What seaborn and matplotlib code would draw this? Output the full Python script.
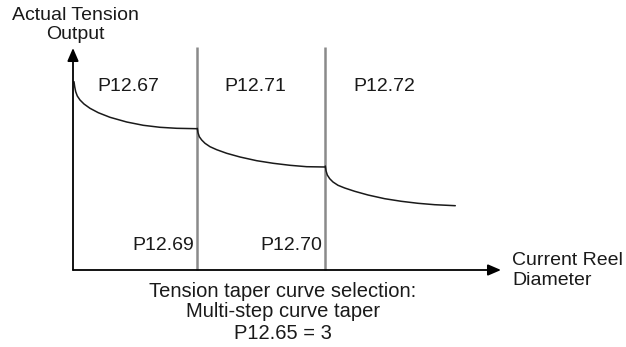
import matplotlib
matplotlib.use("Agg")
import matplotlib.pyplot as plt
import seaborn as sns
import pandas as pd

# ---- data (x = reel diameter units from origin, y = tension units above x-axis) ----
seg1_x = [1, 1.7, 2.7, 4.3, 7, 11, 17, 25.3, 37, 53.7, 70.3, 87, 103.7, 123.7]
seg1_y = [188.3, 183.3, 178.3, 174, 170, 166, 161.7, 157.3, 152.7, 148, 144.7, 142.7, 141.7, 141.3]
seg2_x = [124.3, 125, 126.3, 128.7, 132, 137, 143.7, 153.7, 167, 183.7, 200.3, 217, 233.7, 252]
seg2_y = [141.7, 137.3, 133.3, 130, 126.7, 123.3, 120.3, 116.7, 113, 109.3, 106.7, 104.7, 103.3, 103]
seg3_x = [252.3, 253, 254.3, 256.7, 260, 265, 271.7, 281.7, 295, 311.7, 328.3, 345, 361.7, 382.3]
seg3_y = [104, 99.3, 95, 91.3, 88, 84.7, 82, 78.7, 75, 71.3, 68.7, 66.7, 65.3, 64.3]

boundaries = [124, 252]
boundary_top = 223

top_labels = ["P12.67", "P12.71", "P12.72"]
bottom_labels = ["P12.69", "P12.70"]

y_label = "Actual Tension\nOutput"
x_label = "Current Reel\nDiameter"
caption = ["Tension taper curve selection:", "Multi-step curve taper", "P12.65 = 3"]

sns.set_theme(style="white")
plt.rcParams["font.family"] = ["Liberation Sans", "DejaVu Sans"]

df = pd.DataFrame({
    "x": seg1_x + seg2_x + seg3_x,
    "y": seg1_y + seg2_y + seg3_y,
    "seg": [1] * len(seg1_x) + [2] * len(seg2_x) + [3] * len(seg3_x),
})

fig = plt.figure(figsize=(6.26, 3.47), dpi=100)
ax = fig.add_axes([0, 0, 1, 1])
ax.set_xlim(-73, 553)
ax.set_ylim(-77, 270)
ax.axis("off")

# boundary lines
ax.vlines(boundaries, 0, boundary_top, color="#8a8a8a", lw=1.8, zorder=1)

# curves
sns.lineplot(data=df, x="x", y="y", units="seg", estimator=None, sort=False,
             color="#1a1a1a", lw=1.1, ax=ax, legend=False, zorder=3)

# axes with arrows
arrow = dict(arrowstyle="-|>,head_length=0.65,head_width=0.28", color="black",
             lw=1.3, shrinkA=0, shrinkB=0)
ax.annotate("", xy=(0, 222), xytext=(0, 0), arrowprops=arrow)
ax.annotate("", xy=(428, 0), xytext=(0, 0), arrowprops=arrow)

fs = 14
col = "#1a1a1a"
# top region labels
top_pos = [(55, 183.5), (182, 183.5), (311.5, 184)]
for (tx, ty), lab in zip(top_pos, top_labels):
    ax.text(tx, ty, lab, ha="center", va="center", fontsize=fs, color=col)
# bottom labels, right-aligned to boundaries
for bx, lab in zip(boundaries, bottom_labels):
    ax.text(bx - 3, 25, lab, ha="right", va="center", fontsize=fs, color=col)

ax.text(2, 245, y_label, ha="center", va="center", fontsize=fs, color=col,
        linespacing=1.18, multialignment="center")
ax.text(439, -0.5, x_label, ha="left", va="center", fontsize=fs, color=col,
        linespacing=1.3)

cap_y = [-21.7, -41.7, -63.3]
for cy, line in zip(cap_y, caption):
    ax.text(210, cy, line, ha="center", va="center", fontsize=14.5, color=col)

fig.savefig("out.png", dpi=100)
